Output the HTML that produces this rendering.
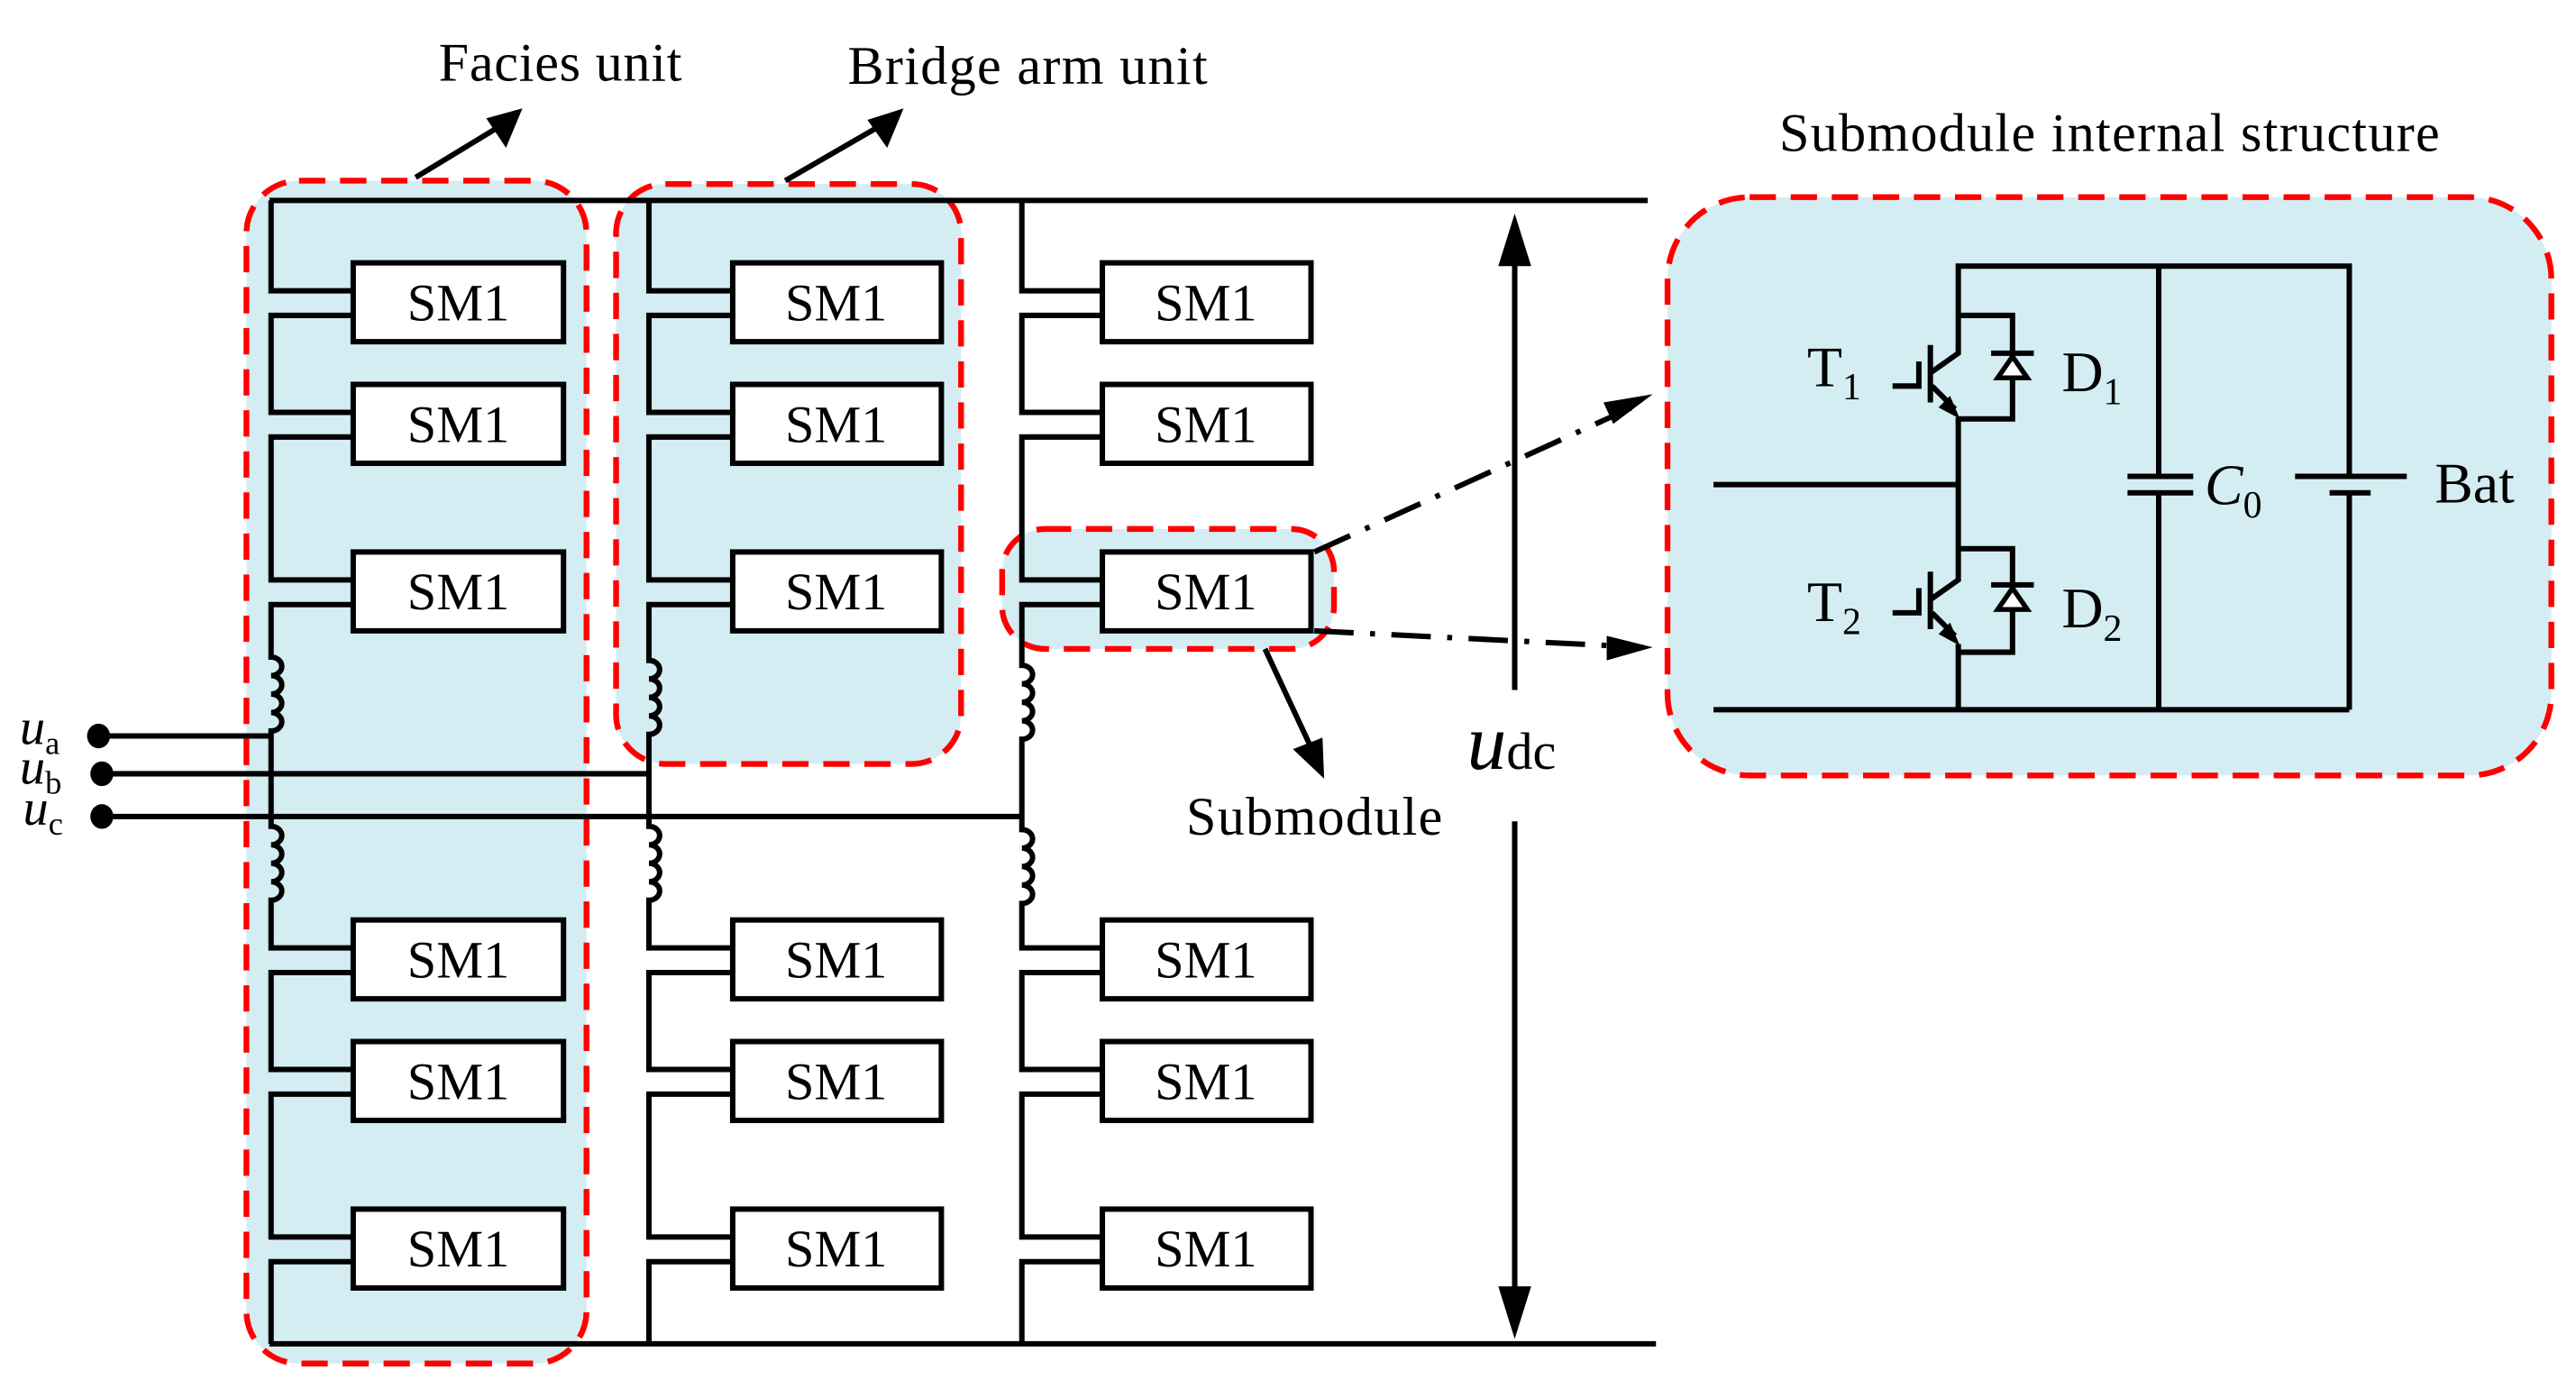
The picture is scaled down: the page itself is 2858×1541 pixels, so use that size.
<!DOCTYPE html>
<html><head><meta charset="utf-8"><style>
html,body{margin:0;padding:0;background:#fff;}
svg{display:block;}
text{font-family:"Liberation Serif",serif;fill:#000;}
</style></head><body>
<svg width="2858" height="1541" viewBox="0 0 1568 845.5" preserveAspectRatio="none" xmlns="http://www.w3.org/2000/svg">
<g fill="#d4edf2" stroke="#ff0000" stroke-width="3.5" stroke-dasharray="16,9">
<rect x="150" y="110" width="207" height="720" rx="32"/>
<rect x="375" y="112" width="210" height="353" rx="30"/>
<rect x="610" y="322" width="202" height="73" rx="26"/>
<rect x="1015" y="120" width="538" height="352" rx="50"/>
</g>
<g stroke="#000" stroke-width="3.3" fill="none">
<line x1="164" y1="122" x2="1003" y2="122"/>
<line x1="164" y1="818" x2="1008" y2="818"/>
<path d="M165,122 V177 H215 M215,192 H165 V251 H215 M215,266 H165 V353 H215 M215,368 H165 V400 a6.5,5.6 0 1 1 0,11.25 a6.5,5.6 0 1 1 0,11.25 a6.5,5.6 0 1 1 0,11.25 a6.5,5.6 0 1 1 0,11.25 V503 a6.5,5.6 0 1 1 0,11.25 a6.5,5.6 0 1 1 0,11.25 a6.5,5.6 0 1 1 0,11.25 a6.5,5.6 0 1 1 0,11.25 V577 H215 M215,592 H165 V651 H215 M215,666 H165 V753 H215 M215,768 H165 V818"/>
<path d="M395,122 V177 H446 M446,192 H395 V251 H446 M446,266 H395 V353 H446 M446,368 H395 V402 a6.5,5.6 0 1 1 0,11.25 a6.5,5.6 0 1 1 0,11.25 a6.5,5.6 0 1 1 0,11.25 a6.5,5.6 0 1 1 0,11.25 V503 a6.5,5.6 0 1 1 0,11.25 a6.5,5.6 0 1 1 0,11.25 a6.5,5.6 0 1 1 0,11.25 a6.5,5.6 0 1 1 0,11.25 V577 H446 M446,592 H395 V651 H446 M446,666 H395 V753 H446 M446,768 H395 V818"/>
<path d="M622,122 V177 H671 M671,192 H622 V251 H671 M671,266 H622 V353 H671 M671,368 H622 V405 a6.5,5.6 0 1 1 0,11.25 a6.5,5.6 0 1 1 0,11.25 a6.5,5.6 0 1 1 0,11.25 a6.5,5.6 0 1 1 0,11.25 V505 a6.5,5.6 0 1 1 0,11.25 a6.5,5.6 0 1 1 0,11.25 a6.5,5.6 0 1 1 0,11.25 a6.5,5.6 0 1 1 0,11.25 V577 H671 M671,592 H622 V651 H671 M671,666 H622 V753 H671 M671,768 H622 V818"/>
<line x1="60" y1="448" x2="165" y2="448"/>
<line x1="62" y1="471" x2="395" y2="471"/>
<line x1="62" y1="497" x2="622" y2="497"/>
</g>
<g fill="#000">
<ellipse cx="60" cy="448" rx="7" ry="7.5"/>
<ellipse cx="62" cy="471" rx="7" ry="7.5"/>
<ellipse cx="62" cy="497" rx="7" ry="7.5"/>
</g>
<g fill="#fff" stroke="#000" stroke-width="3.3">
<rect x="215" y="160" width="128" height="48"/><rect x="215" y="234" width="128" height="48"/><rect x="215" y="336" width="128" height="48"/>
<rect x="215" y="560" width="128" height="48"/><rect x="215" y="634" width="128" height="48"/><rect x="215" y="736" width="128" height="48"/>
<rect x="446" y="160" width="127" height="48"/><rect x="446" y="234" width="127" height="48"/><rect x="446" y="336" width="127" height="48"/>
<rect x="446" y="560" width="127" height="48"/><rect x="446" y="634" width="127" height="48"/><rect x="446" y="736" width="127" height="48"/>
<rect x="671" y="160" width="127" height="48"/><rect x="671" y="234" width="127" height="48"/><rect x="671" y="336" width="127" height="48"/>
<rect x="671" y="560" width="127" height="48"/><rect x="671" y="634" width="127" height="48"/><rect x="671" y="736" width="127" height="48"/>
</g>
<g font-size="32" text-anchor="middle">
<text x="279" y="195">SM1</text><text x="279" y="269">SM1</text><text x="279" y="371">SM1</text>
<text x="279" y="595">SM1</text><text x="279" y="669">SM1</text><text x="279" y="771">SM1</text>
<text x="509" y="195">SM1</text><text x="509" y="269">SM1</text><text x="509" y="371">SM1</text>
<text x="509" y="595">SM1</text><text x="509" y="669">SM1</text><text x="509" y="771">SM1</text>
<text x="734" y="195">SM1</text><text x="734" y="269">SM1</text><text x="734" y="371">SM1</text>
<text x="734" y="595">SM1</text><text x="734" y="669">SM1</text><text x="734" y="771">SM1</text>
</g>
<g font-style="italic" font-size="31">
<text x="12" y="453">u<tspan font-style="normal" font-size="20" dy="6">a</tspan></text>
<text x="12" y="477">u<tspan font-style="normal" font-size="20" dy="6">b</tspan></text>
<text x="14" y="502">u<tspan font-style="normal" font-size="20" dy="6">c</tspan></text>
</g>
<g stroke="#000" stroke-width="3.3" fill="none">
<line x1="253" y1="108" x2="304" y2="77"/>
<line x1="478" y1="110" x2="535" y2="77"/>
<line x1="770" y1="395" x2="798" y2="455"/>
<line x1="922" y1="150" x2="922" y2="420"/>
<line x1="922" y1="500" x2="922" y2="795"/>
<path d="M800,336 L1000,245" stroke-dasharray="24,10,3,10"/>
<path d="M800,384 L1000,394" stroke-dasharray="24,10,3,10"/>
</g>
<g fill="#000">
<polygon points="318,66 308,90 296,72"/>
<polygon points="550,66 540,90 528,73"/>
<polygon points="806,474 787,456 805,449"/>
<polygon points="922,130 912,162 932,162"/>
<polygon points="922,815 912,783 932,783"/>
<polygon points="1006,240 982,258 976,245"/>
<polygon points="1006,394 978,402 978,387"/>
</g>
<g font-size="33">
<text x="267" y="49" textLength="148">Facies unit</text>
<text x="516" y="51" textLength="219">Bridge arm unit</text>
<text x="722" y="508" textLength="156">Submodule</text>
<text x="1083" y="92" textLength="402">Submodule internal structure</text>
<text x="893" y="468" font-size="48" font-style="italic">u<tspan font-style="normal" font-size="32">dc</tspan></text>
</g>
<g stroke="#000" stroke-width="3.3" fill="none">
<path d="M1192,192 V162 H1430 V290"/>
<path d="M1314,162 V290 M1314,300 V432"/>
<path d="M1430,300 V432"/>
<path d="M1043,432 H1430"/>
<path d="M1043,295 H1192"/>
<path d="M1295,290 H1335 M1295,300 H1335"/>
<path d="M1397,290 H1465 M1418,300 H1443"/>
<path d="M1192,192 V215 L1175,227 M1175,210 V245 M1152,235 H1168 V220 M1192,254 V295"/>
<path d="M1192,192 H1225 V255 H1192"/>
<path d="M1212,215 H1238"/>
<path d="M1192,295 V353 L1175,365 M1175,348 V383 M1152,373 H1168 V358 M1192,392 V432"/>
<path d="M1192,334 H1225 V397 H1192"/>
<path d="M1212,356 H1238"/>
<line x1="1176" y1="235" x2="1190" y2="249"/>
<line x1="1176" y1="373" x2="1190" y2="387"/>
</g>
<g fill="#000">
<polygon points="1193,255 1180,248 1187,241"/>
<polygon points="1193,393 1180,386 1187,379"/>
</g>
<g fill="#fff" stroke="#000" stroke-width="3">
<polygon points="1225,217 1216,230 1234,230"/>
<polygon points="1225,358 1216,371 1234,371"/>
</g>
<g font-size="35">
<text x="1100" y="235">T<tspan font-size="23" dy="8">1</tspan></text>
<text x="1255" y="238">D<tspan font-size="23" dy="8">1</tspan></text>
<text x="1100" y="378">T<tspan font-size="23" dy="8">2</tspan></text>
<text x="1255" y="382">D<tspan font-size="23" dy="8">2</tspan></text>
<text x="1342" y="307" font-style="italic">C<tspan font-style="normal" font-size="23" dy="8">0</tspan></text>
<text x="1482" y="306">Bat</text>
</g>
</svg>
</body></html>
